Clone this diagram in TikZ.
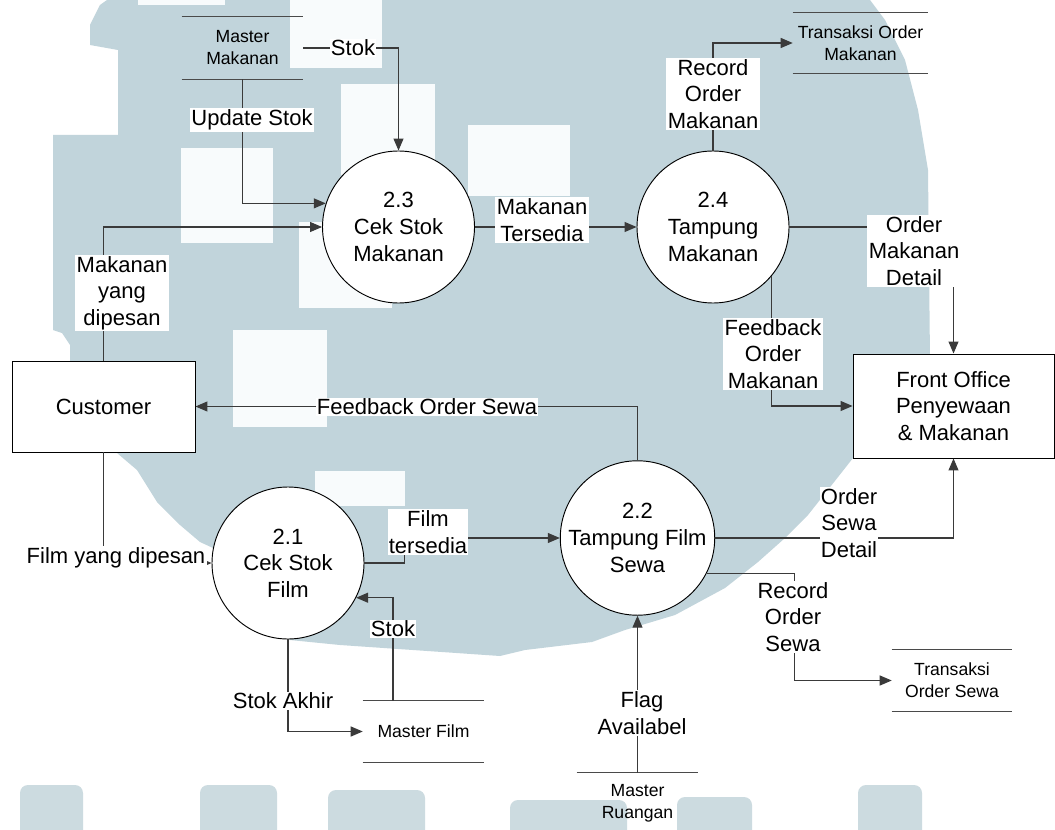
\documentclass[tikz,border=0pt]{standalone}
\usepackage{fontspec}
\setmainfont{Liberation Sans}
\usetikzlibrary{arrows.meta}

\definecolor{linec}{HTML}{3A3A3A}
\definecolor{storec}{HTML}{4A4A4A}
\definecolor{wm}{HTML}{C1D4DB}
\definecolor{wmsoft}{HTML}{CCDBE0}
\definecolor{wmhole}{HTML}{F8FBFC}

\begin{document}
\begin{tikzpicture}[x=0.75pt,y=-0.75pt,
  every node/.style={font=\fontsize{16.5}{20}\selectfont, align=center, text=black},
  flow/.style={draw=linec, line width=0.8pt, -{Triangle[length=9pt,width=7.5pt]}},
  plain/.style={draw=linec, line width=0.8pt},
  lbl/.style={fill=white, inner sep=1pt},
  proc/.style={circle, draw=black, fill=white, line width=0.7pt, minimum size=114pt, inner sep=0pt},
  entity/.style={rectangle, draw=black, fill=white, line width=0.7pt, inner sep=0pt},
  store/.style={font=\fontsize{13.2}{16.5}\selectfont, inner sep=0pt},
  storeline/.style={draw=storec, line width=0.8pt},
]
\clip (0,0) rectangle (1055,830);
\fill[white] (0,0) rectangle (1055,830);

% pale background emblem
\fill[wm] (107,0) -- (870,0) -- (885,20) -- (905,60) -- (918,110) -- (928,170)
  -- (930,360) -- (853,360) -- (853,458) -- (842,472) -- (808,515) -- (785,538)
  -- (758,562) -- (725,588) -- (675,615) -- (625,630) -- (592,642) -- (525,650)
  -- (500,656) -- (340,645) -- (290,640) -- (213,548) -- (200,542) -- (180,525)
  -- (157,502) -- (137,470) -- (117,453) -- (70,453) -- (70,345) -- (62,333)
  -- (53,330) -- (53,135) -- (118,135) -- (118,50) -- (90,45) -- (90,25)
  -- (100,5) -- cycle;
\foreach \a/\b/\c/\d in {290/0/382/68, 138/0/225/5, 181/148/273/243, 341/84/435/175,
    299/222/392/308, 233/330/327/427, 468/125/570/196, 315/471/405/506}
  \fill[wmhole] (\a,\b) rectangle (\c,\d);
\foreach \a/\b/\c in {20/785/83, 200/785/277, 328/790/425, 510/800/627, 677/797/752, 858/785/922}
  \fill[wmsoft, rounded corners=6] (\a,\b) rectangle (\c,840);

% external entities
\node[entity, minimum width=137.25pt, minimum height=68.25pt] (cust) at (103.5,406.5) {Customer};
\node[entity, minimum width=150.75pt, minimum height=78pt] (fo) at (953.5,406)
  {Front Office\\Penyewaan\\\& Makanan};

% processes
\node[proc] (p23) at (398.5,227) {2.3\\Cek Stok\\Makanan};
\node[proc] (p24) at (713,227) {2.4\\Tampung\\Makanan};
\node[proc] (p21) at (288,563) {2.1\\Cek Stok\\Film};
\node[proc] (p22) at (637.5,538) {2.2\\Tampung Film\\Sewa};

% data stores
\node[store, minimum width=90.75pt, minimum height=46.5pt] (mm) at (242.5,48) {Master\\Makanan};
\node[store, minimum width=101.25pt, minimum height=45pt] (tom) at (860.5,43) {Transaksi Order\\Makanan};
\node[store, minimum width=90.75pt, minimum height=45.75pt] (mf) at (423.5,731.5) {Master Film};
\node[store, minimum width=90.75pt, minimum height=45.75pt] (mr) at (637.5,803.5) {Master\\Ruangan};
\node[store, minimum width=90pt, minimum height=45.75pt] (tos) at (952,680.5) {Transaksi\\Order Sewa};
\foreach \s in {mm,tom,mf,mr,tos} {
  \draw[storeline] (\s.north west) -- (\s.north east);
  \draw[storeline] (\s.south west) -- (\s.south east);
}

% data flows
\draw[flow] (mm.east) -| (p23.north);
\draw[flow] (mm.south) |- (p23.162.4);
\draw[flow] (cust.north) |- (p23.west);
\draw[flow] (p23.east) -- (p24.west);
\draw[flow] (p24.north) |- (tom.west);
\draw[flow] (p24.east) -| (fo.north);
\draw[flow] (p24.-40.3) |- (fo.west);
\draw[flow] (p22.north) |- (cust.east);
\draw[flow] (cust.south) |- (p21.west);
\draw[flow] (p21.east) -- ++(40,0) |- (p22.west);
\draw[flow] ([xshift=-22.9pt]mf.north) |- (p21.-27.4);
\draw[flow] (p21.south) |- (mf.west);
\draw[flow] (p22.east) -| (fo.south);
\draw[flow] (p22.-27.4) -- ++(88,0) |- (tos.west);
\draw[flow] (mr.north) -- (p22.south);

% flow labels
\node[lbl] (lStok1) at (353,48) {Stok};
\node[lbl] (lUpd) at (252,120) {Update Stok};
\node[lbl] (lMyd) at (122,293) {Makanan\\yang\\dipesan};
\node[lbl] (lMt) at (542,220) {Makanan\\Tersedia};
\node[lbl] (lRom) at (713,94) {Record\\Order\\Makanan};
\node[lbl] (lOmd) at (914,251) {Order\\Makanan\\Detail};
\node[lbl] (lFom) at (773,354) {Feedback\\Order\\Makanan};
\node[lbl] (lFos) at (427,407) {Feedback Order Sewa};
\node[lbl] (lFyd) at (116,558) {Film yang dipesan};
\node[lbl] (lFt) at (428,532) {Film\\tersedia};
\node[lbl] (lStok2) at (393,629) {Stok};
\node[lbl] (lSa) at (283,701) {Stok Akhir};
\node[lbl] (lOsd) at (849,523) {Order\\Sewa\\Detail};
\node[lbl] (lRos) at (793,617) {Record\\Order\\Sewa};
\node[lbl] (lFa) at (642,713) {Flag\\Availabel};
\end{tikzpicture}
\end{document}
